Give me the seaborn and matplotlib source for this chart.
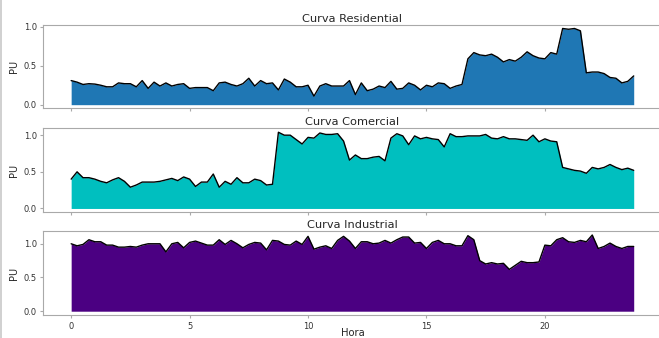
import numpy as np
import pandas as pd
import matplotlib
matplotlib.use("Agg")
import matplotlib.pyplot as plt
from matplotlib.lines import Line2D
import seaborn as sns

# 15-minute load profiles (per-unit) over one day
hora = np.arange(96) * 0.25

residencial = [
    0.31, 0.29, 0.26, 0.27, 0.265, 0.25, 0.23, 0.23, 0.28, 0.27, 0.27, 0.23,
    0.31, 0.21, 0.29, 0.24, 0.28, 0.24, 0.26, 0.27, 0.21, 0.22, 0.22, 0.22,
    0.18, 0.28, 0.29, 0.26, 0.24, 0.27, 0.34, 0.24, 0.31, 0.27, 0.28, 0.19,
    0.33, 0.29, 0.23, 0.23, 0.25, 0.11, 0.24, 0.27, 0.24, 0.24, 0.24, 0.31,
    0.13, 0.28, 0.18, 0.20, 0.24, 0.22, 0.30, 0.20, 0.21, 0.28, 0.25, 0.19,
    0.25, 0.23, 0.28, 0.27, 0.21, 0.24, 0.26, 0.59, 0.67, 0.64, 0.63, 0.65,
    0.61, 0.55, 0.58, 0.56, 0.61, 0.68, 0.63, 0.60, 0.59, 0.67, 0.65, 0.98,
    0.97, 0.98, 0.95, 0.41, 0.42, 0.42, 0.40, 0.35, 0.34, 0.28, 0.30, 0.37,
]

comercial = [
    0.40, 0.50, 0.42, 0.42, 0.40, 0.37, 0.35, 0.39, 0.42, 0.37, 0.29, 0.32,
    0.36, 0.36, 0.36, 0.37, 0.39, 0.41, 0.38, 0.43, 0.40, 0.30, 0.36, 0.36,
    0.47, 0.29, 0.37, 0.33, 0.42, 0.35, 0.35, 0.40, 0.38, 0.32, 0.33, 1.04,
    1.00, 1.00, 0.94, 0.88, 0.97, 0.96, 1.03, 1.01, 1.01, 1.02, 0.92, 0.66,
    0.73, 0.68, 0.68, 0.70, 0.71, 0.65, 0.96, 1.02, 0.99, 0.87, 0.99, 0.95,
    0.97, 0.95, 0.94, 0.84, 1.02, 0.98, 0.98, 0.99, 0.99, 0.99, 1.01, 0.96,
    0.95, 0.98, 0.95, 0.95, 0.94, 0.93, 1.00, 0.91, 0.95, 0.92, 0.91, 0.56,
    0.54, 0.52, 0.51, 0.48, 0.56, 0.54, 0.56, 0.60, 0.56, 0.53, 0.55, 0.52,
]

industrial = [
    1.00, 0.97, 0.99, 1.06, 1.03, 1.03, 0.98, 0.98, 0.95, 0.95, 0.96, 0.95,
    0.98, 1.00, 1.00, 1.00, 0.88, 1.00, 1.02, 0.94, 1.02, 1.04, 1.01, 0.98,
    0.98, 1.06, 0.99, 1.05, 1.00, 0.94, 0.99, 1.02, 1.01, 0.91, 1.05, 1.04,
    0.99, 0.98, 1.04, 0.99, 1.11, 0.92, 0.95, 0.97, 0.93, 1.05, 1.11, 1.04,
    0.93, 1.03, 1.03, 1.00, 1.01, 1.05, 1.01, 1.06, 1.10, 1.10, 1.01, 1.02,
    0.93, 1.02, 1.05, 1.00, 1.00, 0.97, 0.97, 1.12, 1.06, 0.75, 0.70, 0.72,
    0.70, 0.71, 0.62, 0.68, 0.74, 0.72, 0.72, 0.73, 0.98, 0.97, 1.06, 1.09,
    1.03, 1.02, 1.05, 1.03, 1.13, 0.93, 0.96, 1.01, 0.96, 0.93, 0.96, 0.96,
]

titulos = ["Curva Residential", "Curva Comercial", "Curva Industrial"]
colunas = ["residencial", "comercial", "industrial"]
cores = ["#1f77b4", "#00bfbf", "#4b0082"]
yticks = [0.0, 0.5, 1.0]
xticks = [0, 5, 10, 15, 20]

df = pd.DataFrame({"Hora": hora, "residencial": residencial,
                   "comercial": comercial, "industrial": industrial})

sns.set_style("white", {
    "axes.edgecolor": "#a9a9a9",
    "axes.linewidth": 1.0,
    "xtick.bottom": True,
    "ytick.left": True,
    "xtick.color": "#a9a9a9",
    "ytick.color": "#a9a9a9",
})
plt.rcParams["font.family"] = ["DejaVu Sans"]

fig = plt.figure(figsize=(6.59, 3.38), dpi=100)

left, width, height = 0.0653, 0.939, 0.248
bottoms = [0.679, 0.372, 0.068]

axes = []
for i, (col, titulo, cor) in enumerate(zip(colunas, titulos, cores)):
    ax = fig.add_axes([left, bottoms[i], width, height],
                      sharex=axes[0] if axes else None)
    axes.append(ax)
    ax.fill_between(df["Hora"], df[col], color=cor, linewidth=0)
    sns.lineplot(data=df, x="Hora", y=col, ax=ax, color="black",
                 linewidth=1.0)
    ax.set_title(titulo, fontsize=8.2, color="#262626", pad=2.2)
    ax.set_ylabel("PU", fontsize=7, color="#262626", labelpad=3.5)
    ax.set_yticks(yticks)
    ax.set_xticks(xticks)
    ax.tick_params(axis="both", labelsize=6, labelcolor="#333333",
                   length=2.5, width=0.8, pad=1.8)
    ax.tick_params(axis="x", pad=2.5)
    if i < 2:
        ax.tick_params(axis="x", labelbottom=False)
        ax.set_xlabel("")
    else:
        ax.set_xlabel("Hora", fontsize=7.2, color="#262626", labelpad=-1.8)

# thin frame line along the left edge of the canvas
fig.add_artist(Line2D([0.0015, 0.0015], [0, 1], transform=fig.transFigure,
                      color="#c8c8c8", linewidth=1.2))

fig.savefig("out.png", dpi=100)
